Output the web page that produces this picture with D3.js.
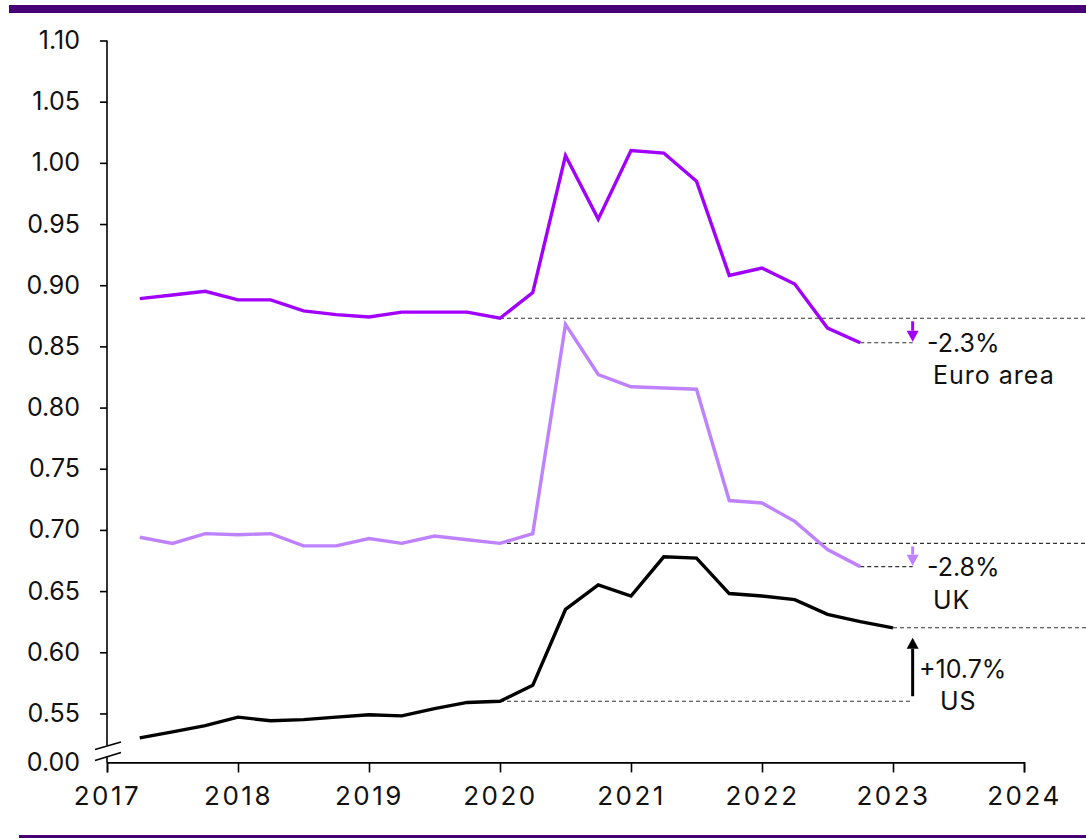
<!DOCTYPE html>
<html>
<head>
<meta charset="utf-8">
<script src="https://cdn.jsdelivr.net/npm/d3@7"></script>
<style>
  html, body { margin: 0; padding: 0; background: #fff; }
  svg { display: block; font-family: "Inter", "Roboto", sans-serif; }
</style>
</head>
<body>
<svg id="chart" width="1086" height="839"></svg>
<script>
// ---- data ----
const quarters = [2017.25, 2017.5, 2017.75, 2018.0, 2018.25, 2018.5, 2018.75, 2019.0, 2019.25, 2019.5, 2019.75, 2020.0,
                  2020.25, 2020.5, 2020.75, 2021.0, 2021.25, 2021.5, 2021.75, 2022.0, 2022.25, 2022.5, 2022.75, 2023.0];
const euroArea = [0.889, 0.892, 0.895, 0.888, 0.888, 0.879, 0.876, 0.874, 0.878, 0.878, 0.878, 0.873,
                  0.894, 1.006, 0.954, 1.010, 1.008, 0.985, 0.908, 0.914, 0.901, 0.865, 0.853];
const uk =       [0.694, 0.689, 0.697, 0.696, 0.697, 0.687, 0.687, 0.693, 0.689, 0.695, 0.692, 0.689,
                  0.697, 0.868, 0.827, 0.817, 0.816, 0.815, 0.724, 0.722, 0.707, 0.684, 0.670];
const us =       [0.530, 0.535, 0.540, 0.547, 0.544, 0.545, 0.547, 0.549, 0.548, 0.554, 0.559, 0.560,
                  0.573, 0.635, 0.655, 0.646, 0.678, 0.677, 0.648, 0.646, 0.643, 0.631, 0.625, 0.620];
const yTicks = [0.55, 0.60, 0.65, 0.70, 0.75, 0.80, 0.85, 0.90, 0.95, 1.00, 1.05, 1.10];
const yBreakValue = 0.51;          // axis position that carries the "0.00" label
const yBreakLabel = "0.00";
const xTicks = [2017, 2018, 2019, 2020, 2021, 2022, 2023, 2024];
const refYear = 2020.0;            // reference point of the changes
const arrowYear = 2023.15;         // horizontal position of the change arrows
const changeLabels = ["-2.3%", "-2.8%", "+10.7%"];
const seriesNames = ["Euro area", "UK", "US"];

// ---- layout ----
const W = 1086, H = 839;
const svg = d3.select("#chart");
const x = d3.scaleLinear().domain([2017, 2024]).range([107, 1024]);
const y = d3.scaleLinear().domain([yBreakValue, 1.10]).range([762.4, 40.5]);

const DARK = "#460073", EURO = "#A100FF", UKC = "#BE82FF", USC = "#000000";
const TXT = "#111111";

// header / footer bars
svg.append("rect").attr("x", 9).attr("y", 5).attr("width", W - 9).attr("height", 8).attr("fill", DARK);
svg.append("rect").attr("x", 19).attr("y", 835).attr("width", W - 19).attr("height", 3).attr("fill", DARK);

// ---- x axis ----
const xAxis = d3.axisBottom(x).tickValues(xTicks).tickFormat(d3.format("d")).tickSize(10).tickSizeOuter(10).tickPadding(14);
const gx = svg.append("g").attr("transform", `translate(0,${y(yBreakValue)})`).call(xAxis);
gx.select(".domain").attr("stroke", "#000").attr("stroke-width", 1.6);
gx.selectAll(".tick line").attr("stroke", "#000").attr("stroke-width", 1.6);
gx.selectAll(".tick text").attr("font-size", 26).attr("letter-spacing", 2.5).attr("fill", TXT)
  .attr("font-family", "Inter, Roboto, sans-serif").attr("dy", "0.71em");

// ---- y axis ----
const yAxis = d3.axisLeft(y).tickValues(yTicks.concat([yBreakValue]))
  .tickFormat(d => d === yBreakValue ? yBreakLabel : d3.format(".2f")(d))
  .tickSize(7).tickSizeOuter(0).tickPadding(20);
const gy = svg.append("g").attr("transform", `translate(${x(2017)},0)`).call(yAxis);
gy.select(".domain").remove();
gy.selectAll(".tick line").attr("stroke", "#000").attr("stroke-width", 1.6)
  .attr("opacity", d => d === yBreakValue ? 0 : 1);
gy.selectAll(".tick text").attr("font-size", 25).attr("fill", TXT).attr("font-family", "Inter, Roboto, sans-serif");

// y domain line with break
const y0 = y(yBreakValue);
svg.append("line").attr("x1", x(2017)).attr("x2", x(2017)).attr("y1", y(1.10)).attr("y2", y0 - 17)
  .attr("stroke", "#000").attr("stroke-width", 1.6);
svg.append("line").attr("x1", x(2017)).attr("x2", x(2017)).attr("y1", y0 - 6).attr("y2", y0)
  .attr("stroke", "#000").attr("stroke-width", 1.6);
const bx = x(2017);
svg.append("polygon")
  .attr("points", [[bx - 12, y0 - 13], [bx + 14, y0 - 20.5], [bx + 14, y0 - 10], [bx - 12, y0 - 2]].map(p => p.join(",")).join(" "))
  .attr("fill", "#fff");
svg.append("line").attr("x1", bx - 12).attr("y1", y0 - 13).attr("x2", bx + 14).attr("y2", y0 - 20.5)
  .attr("stroke", "#000").attr("stroke-width", 1.6);
svg.append("line").attr("x1", bx - 12).attr("y1", y0 - 2).attr("x2", bx + 14).attr("y2", y0 - 10)
  .attr("stroke", "#000").attr("stroke-width", 1.6);

// ---- reference dashed lines & arrows ----
const series = [
  { name: seriesNames[0], values: euroArea, color: EURO, label: changeLabels[0] },
  { name: seriesNames[1], values: uk, color: UKC, label: changeLabels[1] },
  { name: seriesNames[2], values: us, color: USC, label: changeLabels[2] }
];
const refIdx = quarters.indexOf(refYear);
const dashG = svg.append("g").attr("stroke", "#333").attr("stroke-width", 1.1).attr("stroke-dasharray", "4,3").attr("fill", "none");

series.forEach((s, i) => {
  const ref = s.values[refIdx];
  const lastIdx = s.values.length - 1;
  const last = s.values[lastIdx];
  const lastX = x(quarters[lastIdx]);
  const ax = x(arrowYear);
  if (last < ref) {
    dashG.append("line").attr("x1", x(refYear)).attr("x2", W).attr("y1", y(ref)).attr("y2", y(ref));
    dashG.append("line").attr("x1", lastX).attr("x2", ax).attr("y1", y(last)).attr("y2", y(last));
  } else {
    dashG.append("line").attr("x1", x(refYear)).attr("x2", ax).attr("y1", y(ref)).attr("y2", y(ref));
    dashG.append("line").attr("x1", lastX).attr("x2", W).attr("y1", y(last)).attr("y2", y(last));
  }
});

series.forEach((s, i) => {
  const ref = s.values[refIdx];
  const last = s.values[s.values.length - 1];
  const ax = x(arrowYear);
  const down = last < ref;
  const yStart = down ? y(ref) + 3 : y(ref) - 5;
  const yEnd = down ? y(last) - 1 : y(last) + 10;
  const dir = down ? 1 : -1;     // 1 = pointing down
  const head = 11, hw = 6;
  svg.append("line").attr("x1", ax).attr("x2", ax).attr("y1", yStart).attr("y2", yEnd - dir * head)
    .attr("stroke", s.color).attr("stroke-width", 3);
  svg.append("polygon")
    .attr("points", [[ax - hw, yEnd - dir * head], [ax + hw, yEnd - dir * head], [ax, yEnd]].map(p => p.join(",")).join(" "))
    .attr("fill", s.color);
});

// ---- lines ----
const line = d3.line().x((d, i) => x(quarters[i])).y(d => y(d));
series.slice().reverse().forEach(s => {
  svg.append("path").datum(s.values).attr("d", line).attr("fill", "none")
    .attr("stroke", s.color).attr("stroke-width", 3.4).attr("stroke-linejoin", "miter");
});

// ---- annotations ----
const ann = [
  { pct: [927, 352], name: [933, 384] },
  { pct: [927, 576], name: [933, 609] },
  { pct: [919, 678], name: [940, 710] }
];
series.forEach((s, i) => {
  svg.append("text").attr("x", ann[i].pct[0]).attr("y", ann[i].pct[1]).text(s.label)
    .attr("font-size", 25).attr("fill", TXT);
  svg.append("text").attr("x", ann[i].name[0]).attr("y", ann[i].name[1]).text(s.name)
    .attr("font-size", 25).attr("letter-spacing", 1).attr("fill", TXT);
});
</script>
</body>
</html>
